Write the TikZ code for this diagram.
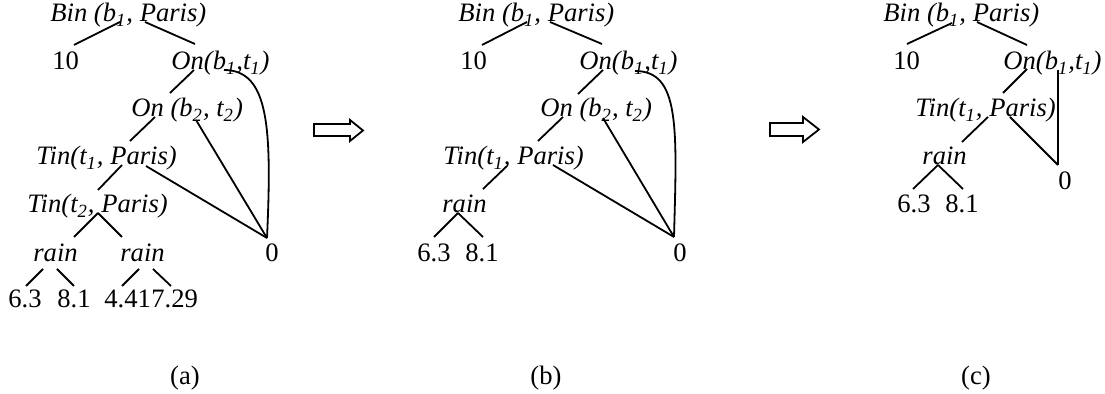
\documentclass[tikz,border=0pt]{standalone}
\usepackage{fontspec}
\setmainfont{Liberation Serif}[Ligatures=TeX]
\usepackage{tikz}

\begin{document}
\begin{tikzpicture}[x=0.5pt, y=-0.5pt, lbl/.style={anchor=base west, inner sep=0pt, font=\fontsize{13.3}{16}\selectfont\rmfamily\itshape}, num/.style={lbl, font=\fontsize{13.3}{16}\selectfont\rmfamily\upshape}, subcap/.style={font=\fontsize{13.3}{16}\selectfont\rmfamily}, edge/.style={line width=0.9pt}, fat/.style={line width=0.9pt, line join=miter}]
  \useasboundingbox (0,0) rectangle (1105,394);
  % (a)
  \node[lbl] (a-bin) at (50,22) {Bin (b\textsubscript{1}, Paris)};
  \node[num] (a-ten) at (52,70) {10};
  \node[lbl] (a-on1) at (171,70) {On(b\textsubscript{1},t\textsubscript{1})};
  \node[lbl] (a-on2) at (131,117) {On (b\textsubscript{2}, t\textsubscript{2})};
  \node[lbl] (a-tin1) at (36,165) {Tin(t\textsubscript{1}, Paris)};
  \node[lbl] (a-tin2) at (27,213) {Tin(t\textsubscript{2}, Paris)};
  \node[lbl] (a-rainl) at (33,262) {rain};
  \node[lbl] (a-rainr) at (120,262) {rain};
  \node[num] (a-n1) at (8,308) {6.3};
  \node[num] (a-n2) at (57,308) {8.1};
  \node[num] (a-n3) at (104,308) {4.41};
  \node[num] (a-n4) at (151,308) {7.29};
  \node[num] (a-zero) at (265,262) {0};
  \draw[edge] ([shift={(70,0)}]a-bin.base west) -- ([shift={(22,-25)}]a-ten.base west);
  \draw[edge] ([shift={(95,0)}]a-bin.base west) -- ([shift={(24,-26)}]a-on1.base west);
  \draw[edge] ([shift={(23,0)}]a-on1.base west) -- ([shift={(39,-24)}]a-on2.base west);
  \draw[edge] ([shift={(24,0)}]a-on2.base west) -- ([shift={(94,-24)}]a-tin1.base west);
  \draw[edge] ([shift={(86,0)}]a-tin1.base west) -- ([shift={(71,-23)}]a-tin2.base west);
  \draw[edge] ([shift={(71,0)}]a-tin2.base west) -- ([shift={(41,-25)}]a-rainl.base west);
  \draw[edge] ([shift={(71,0)}]a-tin2.base west) -- ([shift={(2,-25)}]a-rainr.base west);
  \draw[edge] ([shift={(10,7)}]a-rainl.base west) -- ([shift={(18,-22)}]a-n1.base west);
  \draw[edge] ([shift={(24,7)}]a-rainl.base west) -- ([shift={(17,-22)}]a-n2.base west);
  \draw[edge] ([shift={(19,7)}]a-rainr.base west) -- ([shift={(18,-22)}]a-n3.base west);
  \draw[edge] ([shift={(33,7)}]a-rainr.base west) -- ([shift={(20,-22)}]a-n4.base west);
  \draw[edge] ([shift={(110,1)}]a-tin1.base west) -- ([shift={(2,-24)}]a-zero.base west);
  \draw[edge] ([shift={(65,3)}]a-on2.base west) -- ([shift={(2,-24)}]a-zero.base west);
  \draw[edge] ([shift={(53,0)}]a-on1.base west) .. controls +(45,0) and +(5,-110) .. ([shift={(2,-24)}]a-zero.base west);
  \node[subcap] (a-cap) at (185,378) {(a)};
  % arrow
  \draw[fat] (314,124) -- (350,124) -- (350,120) -- (363,130.5) -- (350,141) -- (350,136) -- (314,136) -- cycle;
  % (b)
  \node[lbl] (b-bin) at (458,22) {Bin (b\textsubscript{1}, Paris)};
  \node[num] (b-ten) at (460,70) {10};
  \node[lbl] (b-on1) at (579,70) {On(b\textsubscript{1},t\textsubscript{1})};
  \node[lbl] (b-on2) at (540,117) {On (b\textsubscript{2}, t\textsubscript{2})};
  \node[lbl] (b-tin1) at (443,165) {Tin(t\textsubscript{1}, Paris)};
  \node[lbl] (b-rain) at (442,213) {rain};
  \node[num] (b-n1) at (417,262) {6.3};
  \node[num] (b-n2) at (465,262) {8.1};
  \node[num] (b-zero) at (673,262) {0};
  \draw[edge] ([shift={(69,0)}]b-bin.base west) -- ([shift={(22,-25)}]b-ten.base west);
  \draw[edge] ([shift={(92,0)}]b-bin.base west) -- ([shift={(23,-26)}]b-on1.base west);
  \draw[edge] ([shift={(24,0)}]b-on1.base west) -- ([shift={(38,-23)}]b-on2.base west);
  \draw[edge] ([shift={(23,0)}]b-on2.base west) -- ([shift={(95,-24)}]b-tin1.base west);
  \draw[edge] ([shift={(64,1)}]b-tin1.base west) -- ([shift={(41,-24)}]b-rain.base west);
  \draw[edge] ([shift={(16,0)}]b-rain.base west) -- ([shift={(17,-25)}]b-n1.base west);
  \draw[edge] ([shift={(16,0)}]b-rain.base west) -- ([shift={(18,-25)}]b-n2.base west);
  \draw[edge] ([shift={(110,0)}]b-tin1.base west) -- ([shift={(1,-25)}]b-zero.base west);
  \draw[edge] ([shift={(63,1)}]b-on2.base west) -- ([shift={(1,-25)}]b-zero.base west);
  \draw[edge] ([shift={(56,1)}]b-on1.base west) .. controls +(45,0) and +(3,-110) .. ([shift={(1,-25)}]b-zero.base west);
  \node[subcap] (b-cap) at (546,378) {(b)};
  % arrow
  \draw[fat] (770,123) -- (803,123) -- (803,117) -- (819,129.5) -- (803,142) -- (803,136) -- (770,136) -- cycle;
  % (c)
  \node[lbl] (c-bin) at (883,22) {Bin (b\textsubscript{1}, Paris)};
  \node[num] (c-ten) at (893,70) {10};
  \node[lbl] (c-on1) at (1003,70) {On(b\textsubscript{1},t\textsubscript{1})};
  \node[lbl] (c-tin1) at (915,117) {Tin(t\textsubscript{1}, Paris)};
  \node[lbl] (c-rain) at (922,165) {rain};
  \node[num] (c-n1) at (897,213) {6.3};
  \node[num] (c-n2) at (945,213) {8.1};
  \node[num] (c-zero) at (1058,190) {0};
  \draw[edge] ([shift={(69,1)}]c-bin.base west) -- ([shift={(14,-26)}]c-ten.base west);
  \draw[edge] ([shift={(94,0)}]c-bin.base west) -- ([shift={(24,-25)}]c-on1.base west);
  \draw[edge] ([shift={(24,-1)}]c-on1.base west) -- ([shift={(88,-24)}]c-tin1.base west);
  \draw[edge] ([shift={(73,0)}]c-tin1.base west) -- ([shift={(40,-23)}]c-rain.base west);
  \draw[edge] ([shift={(16,0)}]c-rain.base west) -- ([shift={(16,-24)}]c-n1.base west);
  \draw[edge] ([shift={(16,0)}]c-rain.base west) -- ([shift={(18,-24)}]c-n2.base west);
  \draw[edge] ([shift={(95,0)}]c-tin1.base west) -- ([shift={(0,-25)}]c-zero.base west);
  \draw[edge] ([shift={(55,0)}]c-on1.base west) -- ([shift={(0,-25)}]c-zero.base west);
  \node[subcap] (c-cap) at (976,378) {(c)};
\end{tikzpicture}
\end{document}
